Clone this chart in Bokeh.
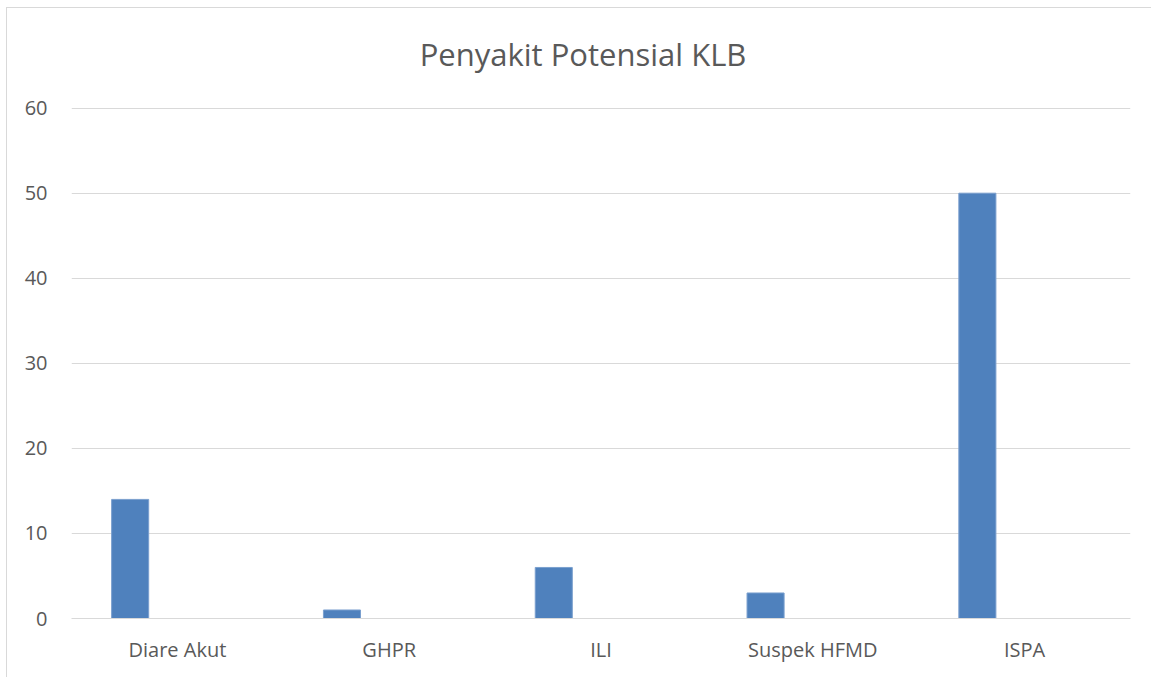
from bokeh.plotting import figure
from bokeh.models import ColumnDataSource, FactorRange, Label, Range1d
from bokeh.transform import dodge
from bokeh.embed import file_html
from bokeh.resources import INLINE

categories = ["Diare Akut", "GHPR", "ILI", "Suspek HFMD", "ISPA"]
values = [14, 1, 6, 3, 50]
y_ticks = [0, 10, 20, 30, 40, 50, 60]
title_text = "Penyakit Potensial KLB"

TEXT = "#595959"
GRID = "#D9D9D9"
BAR = "#4F81BD"
FONT = "Open Sans"

source = ColumnDataSource(data=dict(cat=categories, val=values))

# frame extends above the 60 line so the title can sit inside it
p = figure(
    x_range=FactorRange(*categories, range_padding=0),
    y_range=Range1d(0, 70.3),
    width=1145, height=670,
    output_backend="svg", toolbar_location=None,
    min_border_left=64, min_border_right=22,
    min_border_top=12, min_border_bottom=60,
)
p.styles = {"margin-left": "6px", "margin-top": "7px",
            "border-left": "1px solid #D9D9D9", "border-top": "1px solid #D9D9D9"}

p.vbar(x=dodge("cat", -0.223, range=p.x_range), top="val", width=0.175,
       source=source, fill_color=BAR, line_color="#7A9FCE", line_width=1)

p.add_layout(Label(x=2.415, y=66.4, text=title_text, text_align="center",
                   text_baseline="middle", text_font=FONT, text_font_size="31px",
                   text_color=TEXT))

p.outline_line_color = None
p.xgrid.grid_line_color = None
p.ygrid.grid_line_color = GRID
p.ygrid.grid_line_width = 1
p.yaxis.ticker = y_ticks
p.ygrid.ticker = y_ticks
p.yaxis.axis_line_color = None
p.yaxis.major_tick_line_color = None
p.yaxis.minor_tick_line_color = None
p.yaxis.major_label_text_font = FONT
p.yaxis.major_label_text_font_size = "20px"
p.yaxis.major_label_text_color = TEXT
p.yaxis.major_label_standoff = 18

p.xaxis.axis_line_color = GRID
p.xaxis.major_tick_line_color = None
p.xaxis.minor_tick_line_color = None
p.xaxis.major_label_text_font = FONT
p.xaxis.major_label_text_font_size = "20px"
p.xaxis.major_label_text_color = TEXT
p.xaxis.major_label_standoff = 11

open("out.html", "w").write(file_html(p, INLINE))
